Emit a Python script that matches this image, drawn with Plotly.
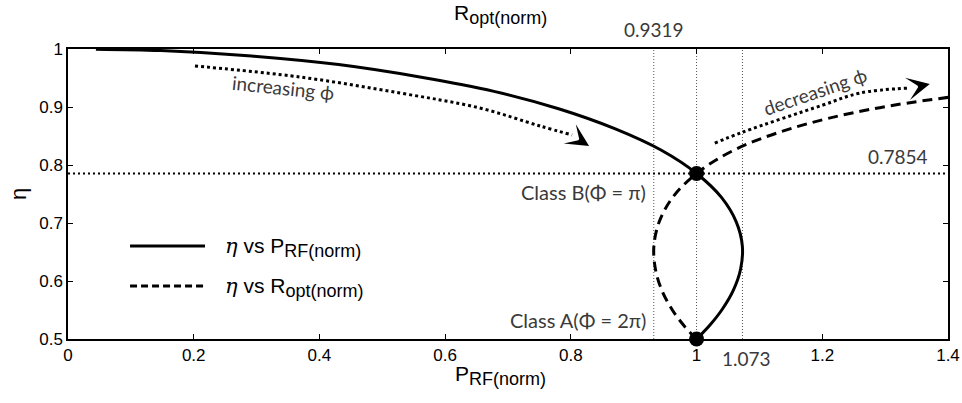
import plotly.graph_objects as go

# ---- data ----
# eta vs normalized RF power (solid)
p_rf = [1.0, 1.0065, 1.0220, 1.0409, 1.0584, 1.0701, 1.0728, 1.0631, 1.0396, 1.0,
        0.9441, 0.8708, 0.7818, 0.6777, 0.5598, 0.4304, 0.2921, 0.1476, 0.0444]
eta_p = [0.5, 0.5069, 0.5249, 0.5513, 0.5838, 0.6207, 0.6605, 0.7020, 0.7441, 0.7854,
         0.8254, 0.8623, 0.8966, 0.9270, 0.9517, 0.9731, 0.9879, 0.9972, 0.9997]
# eta vs normalized optimum resistance (dashed)
r_opt = [1.0, 0.9935, 0.9785, 0.9607, 0.9448, 0.9345, 0.9321, 0.9406, 0.9619, 1.0,
         1.0592, 1.1484, 1.2791, 1.4756]
eta_r = [0.5, 0.5069, 0.5249, 0.5513, 0.5838, 0.6207, 0.6605, 0.7020, 0.7441, 0.7854,
         0.8254, 0.8623, 0.8966, 0.9270]
# class points
class_x = [1.0, 1.0]
class_y = [0.7854, 0.5]
class_labels = ["Class B(Φ = π)", "Class A(Φ = 2π)"]
# reference values
r_min = 0.9319
p_max = 1.073
eta_b = 0.7854
# guide arrows (dotted shafts)
inc_x = [0.202, 0.369, 0.528, 0.655, 0.751, 0.802]
inc_y = [0.9707, 0.9517, 0.9241, 0.8983, 0.8672, 0.8517]
dec_x = [1.029, 1.074, 1.201, 1.260, 1.339]
dec_y = [0.8379, 0.8569, 0.9034, 0.9241, 0.9328]
inc_tip = (0.829, 0.8328)
dec_tip = (1.371, 0.9397)

x_ticks = [0, 0.2, 0.4, 0.6, 0.8, 1.0, 1.2, 1.4]
x_ticktext = ["0", "0.2", "0.4", "0.6", "0.8", "1", "1.2", "1.4"]
y_ticks = [0.5, 0.6, 0.7, 0.8, 0.9, 1.0]
y_ticktext = ["0.5", "0.6", "0.7", "0.8", "0.9", "1"]

ANN_FONT = dict(family="Lato", size=19, color="#3a3a3a")
AX_FONT = "Liberation Sans"

fig = go.Figure()

fig.add_trace(go.Scatter(x=p_rf, y=eta_p, mode="lines", line=dict(color="black", width=3, shape="spline"),
                         name="η vs P_RF(norm)", showlegend=False))
fig.add_trace(go.Scatter(x=r_opt, y=eta_r, mode="lines",
                         line=dict(color="black", width=3, dash="10px,6px", shape="spline"),
                         name="η vs R_opt(norm)", showlegend=False))
fig.add_trace(go.Scatter(x=inc_x, y=inc_y, mode="lines", line=dict(color="black", width=3, dash="3px,3px", shape="spline"),
                         showlegend=False, hoverinfo="skip"))
fig.add_trace(go.Scatter(x=dec_x, y=dec_y, mode="lines", line=dict(color="black", width=3, dash="3px,3px", shape="spline"),
                         showlegend=False, hoverinfo="skip"))
fig.add_trace(go.Scatter(x=class_x, y=class_y, mode="markers", marker=dict(color="black", size=15),
                         cliponaxis=False, showlegend=False))

# reference lines
for xv in [r_min, 1.0, p_max]:
    fig.add_shape(type="line", xref="x", yref="paper", x0=xv, x1=xv, y0=0, y1=1,
                  line=dict(color="#555555", width=1, dash="1px,2px"), layer="below")
fig.add_shape(type="line", xref="paper", yref="y", x0=0, x1=1, y0=eta_b, y1=eta_b,
              line=dict(color="black", width=2, dash="2px,3px"), layer="below")

# arrow heads
fig.add_annotation(x=inc_tip[0], y=inc_tip[1], ax=-8, ay=-5, showarrow=True, arrowhead=3,
                   arrowwidth=2, arrowsize=1.9, arrowcolor="black", text="")
fig.add_annotation(x=dec_tip[0], y=dec_tip[1], ax=-9, ay=2, showarrow=True, arrowhead=3,
                   arrowwidth=2, arrowsize=1.9, arrowcolor="black", text="")

# text annotations
fig.add_annotation(x=0.342, y=0.9328, text="increasing ϕ", showarrow=False, textangle=6, font=ANN_FONT)
fig.add_annotation(x=1.188, y=0.927, text="decreasing ϕ", showarrow=False, textangle=-19, font=ANN_FONT)
fig.add_annotation(x=r_min, y=1.0, text=f"{r_min:.4f}", showarrow=False, yanchor="bottom", yshift=6, font=ANN_FONT)
fig.add_annotation(x=1.371, y=eta_b, text=f"{eta_b:.4f}", showarrow=False, xanchor="right", yanchor="bottom",
                   yshift=3, font=ANN_FONT)
fig.add_annotation(x=p_max, y=0.5, text=f"{p_max:.3f}", showarrow=False, yanchor="top", yshift=-6, xshift=4,
                   font=ANN_FONT)
fig.add_annotation(x=0.9227, y=0.7534, text=class_labels[0], showarrow=False, xanchor="right",
                   font=dict(ANN_FONT, size=20))
fig.add_annotation(x=0.9227, y=0.5328, text=class_labels[1], showarrow=False, xanchor="right",
                   font=dict(ANN_FONT, size=20))

SUB = "<sub><span style='font-size:18px'>{}</span></sub>"
# axis titles
fig.add_annotation(xref="paper", yref="paper", x=0.492, y=-0.125, text="P" + SUB.format("RF(norm)"),
                   showarrow=False, xanchor="center", yanchor="middle",
                   font=dict(family=AX_FONT, size=21, color="black"))
fig.add_annotation(xref="paper", yref="paper", x=0.492, y=1.12, text="R" + SUB.format("opt(norm)"),
                   showarrow=False, xanchor="center", yanchor="middle",
                   font=dict(family=AX_FONT, size=21, color="black"))
fig.add_annotation(xref="paper", yref="paper", x=-0.0568, y=0.5, text="η", showarrow=False, textangle=-90,
                   xanchor="center", yanchor="middle", font=dict(family=AX_FONT, size=22, color="black"))

# manual legend
leg_y = [0.3207, 0.1828]
leg_text = ["<span style='font-family:DejaVu Serif'><i>η</i></span> vs P" + SUB.format("RF(norm)"),
            "<span style='font-family:DejaVu Serif'><i>η</i></span> vs R" + SUB.format("opt(norm)")]
leg_dash = ["solid", "7px,4px"]
for yy, tt, dd in zip(leg_y, leg_text, leg_dash):
    fig.add_shape(type="line", xref="paper", yref="paper", x0=0.0705, x1=0.1557, y0=yy, y1=yy,
                  line=dict(color="black", width=3, dash=dd))
    fig.add_annotation(xref="paper", yref="paper", x=0.176, y=yy, text=tt, showarrow=False, xanchor="left",
                       yanchor="middle", yshift=-2, font=dict(family=AX_FONT, size=21, color="black"))

axis_common = dict(showline=True, linecolor="black", linewidth=1.5, mirror="ticks", ticks="inside",
                   ticklen=5, tickwidth=1, tickcolor="black", showgrid=False, zeroline=False, automargin=False,
                   tickfont=dict(family=AX_FONT, size=17, color="black"))
fig.update_xaxes(range=[0, 1.4], tickvals=x_ticks, ticktext=x_ticktext, **axis_common)
fig.update_yaxes(range=[0.5, 1.0], tickvals=y_ticks, ticktext=y_ticktext, **axis_common)

fig.update_layout(width=962, height=403, margin=dict(l=68, r=14, t=49, b=64, autoexpand=False),
                  plot_bgcolor="white", paper_bgcolor="white", showlegend=False)

fig.write_html("out.html", config={"displayModeBar": False},
               post_script="document.body.style.margin='0';document.body.style.padding='0';")
